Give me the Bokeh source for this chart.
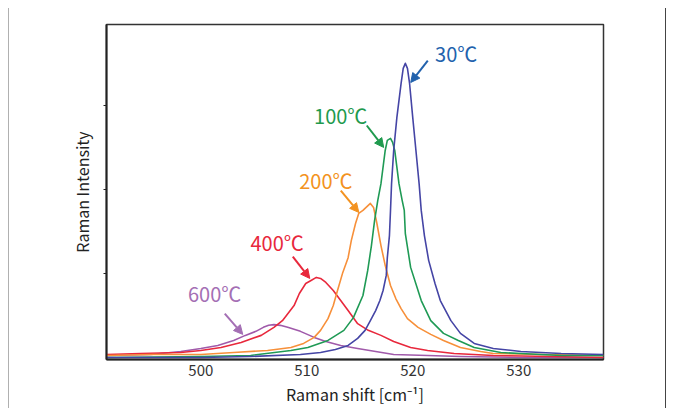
from bokeh.plotting import figure
from bokeh.models import Range1d, FixedTicker, Arrow, NormalHead, CustomJSTickFormatter
from bokeh.core.properties import value
from bokeh.embed import file_html
from bokeh.resources import INLINE

# ---- data (Raman shift in cm^-1, intensity in arbitrary units) ----
x30 = [491.1, 495.3, 500.0, 504.7, 509.4, 511.3, 512.7, 513.9, 514.8, 515.5, 516.0, 516.5, 516.9, 517.2,
       517.5, 517.6, 517.8, 517.9, 518.0, 518.2, 518.5, 518.9, 519.1, 519.3, 519.5, 519.7, 520.0, 520.3,
       520.6, 520.8, 521.1, 521.5, 522.1, 522.6, 523.6, 524.5, 525.8, 527.6, 530.2, 534.0, 538.0]
y30 = [0.6, 0.6, 0.6, 0.9, 1.5, 2.1, 3.0, 4.2, 6.3, 8.7, 11.6, 14.6, 17.6, 20.6,
       25.1, 30.4, 37.0, 44.5, 52.5, 62.4, 72.2, 82.4, 86.9, 88.4, 86.9, 82.4, 72.2, 62.4,
       52.5, 44.5, 37.0, 29.6, 22.7, 17.6, 11.6, 7.8, 4.8, 3.3, 2.4, 1.8, 1.5]

x100 = [491.1, 500.0, 504.7, 508.5, 510.1, 512.0, 513.5, 514.4, 515.3, 515.75, 516.1, 516.4, 516.7, 517.0,
        517.4, 517.6, 517.9, 518.1, 518.3, 518.7, 519.0, 519.2, 519.3, 519.8, 520.8, 521.7, 522.9, 524.3,
        525.8, 528.3, 530.2, 534.0, 538.0]
y100 = [0.6, 0.9, 1.2, 2.7, 3.6, 5.7, 8.7, 12.5, 19.1, 26.6, 34.0, 41.5, 47.5, 52.5,
        62.4, 65.4, 66.0, 64.8, 62.4, 52.5, 47.5, 44.5, 37.6, 27.5, 17.6, 11.6, 7.8, 5.7,
        3.6, 2.1, 1.8, 1.2, 1.2]

x200 = [491.1, 495.3, 500.0, 503.1, 506.3, 508.5, 509.7, 510.7, 511.3, 512.0, 512.5, 512.9, 513.4, 513.9,
        514.2, 514.6, 514.9, 515.3, 515.7, 516.0, 516.3, 516.6, 517.0, 517.4, 517.9, 518.4, 518.9, 519.5,
        520.5, 521.7, 522.9, 524.5, 526.4, 527.6, 532.1, 538.0]
y200 = [1.2, 1.5, 1.5, 2.1, 2.7, 3.6, 4.8, 6.6, 8.7, 12.2, 16.1, 20.6, 26.0, 30.4,
        35.5, 40.6, 43.6, 44.5, 45.7, 46.6, 45.4, 40.9, 34.0, 28.1, 22.1, 18.2, 15.2, 12.2,
        9.6, 7.5, 5.7, 3.6, 2.4, 1.8, 1.5, 1.2]

x400 = [491.1, 494.3, 498.1, 500.0, 501.9, 503.8, 505.7, 506.9, 507.7, 508.8, 509.3, 509.9, 510.4, 510.9,
        511.3, 511.8, 512.5, 513.2, 513.9, 514.8, 515.8, 517.0, 518.2, 519.8, 521.4, 523.9, 527.6, 533.0, 538.0]
y400 = [1.5, 1.8, 2.1, 2.7, 3.6, 5.1, 7.2, 9.6, 11.6, 16.1, 19.7, 22.7, 23.6, 24.5,
        24.2, 23.0, 20.6, 17.6, 14.6, 10.7, 8.7, 7.2, 5.4, 3.6, 2.7, 1.8, 1.2, 0.9, 0.6]

x600 = [491.1, 495.3, 498.1, 500.0, 501.6, 503.1, 504.2, 505.2, 505.9, 506.4, 506.9, 507.5, 508.2, 509.4,
        510.7, 511.8, 513.2, 514.8, 516.5, 518.2, 521.4, 524.5, 530.2, 538.0]
y600 = [1.2, 1.5, 2.4, 3.3, 4.2, 5.7, 7.2, 8.4, 9.6, 10.2, 10.4, 10.2, 9.6, 8.4,
        6.6, 5.4, 4.2, 3.3, 2.4, 1.5, 1.2, 0.9, 0.6, 0.6]

labels = ["600℃", "400℃", "200℃", "100℃", "30℃"]
x_ticks = [500, 510, 520, 530]
y_ticks = [25.6, 50.6, 75.8]

series = [(x600, y600), (x400, y400), (x200, y200), (x100, y100), (x30, y30)]
line_colors = ["#a05aaa", "#e8283c", "#f7903a", "#1f9a55", "#4545a5"]
text_colors = ["#a46fb4", "#e8283c", "#f39220", "#1f9a4e", "#2262ad"]

# annotation placement (data units)
label_x = [501.3, 507.2, 511.8, 513.2, 524.1]
label_y = [19.7, 34.9, 53.4, 72.8, 91.3]
arrow_start = [(502.26, 13.7), (508.68, 30.7), (513.21, 50.4), (515.66, 69.85), (521.42, 89.25)]
arrow_end = [(503.96, 7.5), (510.28, 24.2), (514.91, 43.9), (517.26, 63.3), (519.81, 82.7)]

FONT = "Noto Sans CJK JP"

p = figure(width=658, height=400, output_backend="svg", toolbar_location=None,
           x_range=Range1d(491.1, 538.0), y_range=Range1d(0, 100),
           min_border_left=97, min_border_right=64, min_border_top=16, min_border_bottom=49)
p.styles = {"border-left": "1px solid #b0b0b0", "border-right": "1px solid #444444",
            "margin-left": "8px", "margin-top": "8px"}
p.background_fill_color = "white"
p.border_fill_color = "white"
p.outline_line_color = "#333333"
p.outline_line_width = 1.5
p.grid.visible = False

for (xs, ys), c in zip(series, line_colors):
    p.line(xs, ys, line_color=c, line_width=1.6, line_join="round")

for i, lab in enumerate(labels):
    p.text(x=[label_x[i]], y=[label_y[i]], text=[lab], text_font=value(FONT), text_font_size="20px",
           text_align="center", text_baseline="middle", text_color=text_colors[i])
    c = text_colors[i]
    p.add_layout(Arrow(end=NormalHead(size=9, fill_color=c, line_color=c),
                       x_start=arrow_start[i][0], y_start=arrow_start[i][1],
                       x_end=arrow_end[i][0], y_end=arrow_end[i][1],
                       line_color=c, line_width=2))

p.xaxis.ticker = FixedTicker(ticks=x_ticks)
p.xaxis.major_tick_out = 0
p.xaxis.major_tick_in = 0
p.xaxis.minor_tick_out = 0
p.xaxis.minor_tick_in = 0
p.xaxis.axis_label = "Raman shift [cm⁻¹]"
p.xaxis.major_label_standoff = 5
p.xaxis.axis_label_standoff = 3

p.yaxis.ticker = FixedTicker(ticks=y_ticks)
p.yaxis.formatter = CustomJSTickFormatter(code="return ''")
p.yaxis.major_tick_out = 3
p.yaxis.major_tick_in = 0
p.yaxis.minor_tick_out = 0
p.yaxis.minor_tick_in = 0
p.yaxis.axis_label = "Raman Intensity"
p.yaxis.axis_label_standoff = 10

for ax in (p.xaxis[0], p.yaxis[0]):
    ax.axis_line_color = "#222222"
    ax.axis_line_width = 2
    ax.major_tick_line_color = "#222222"
    ax.major_label_text_font = FONT
    ax.major_label_text_font_size = "15px"
    ax.major_label_text_color = "#333333"
    ax.axis_label_text_font = FONT
    ax.axis_label_text_font_size = "16px"
    ax.axis_label_text_font_style = "normal"
    ax.axis_label_text_color = "#222222"

open("out.html", "w").write(file_html(p, INLINE))
